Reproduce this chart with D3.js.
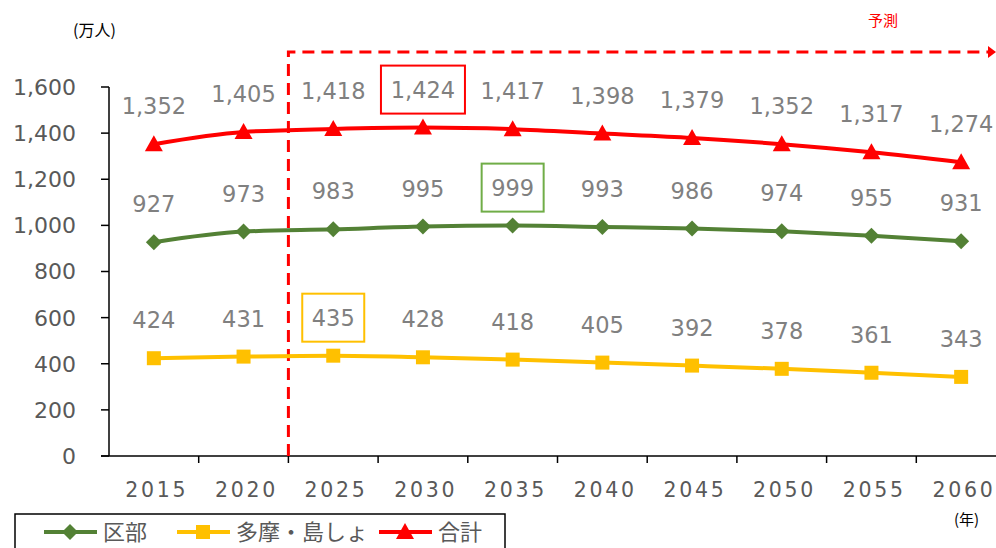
<!DOCTYPE html>
<html><head><meta charset="utf-8">
<script src="https://cdn.jsdelivr.net/npm/d3@7"></script>
<style>body{margin:0;background:#fff}svg{display:block}</style>
</head><body>
<svg id="c" width="996" height="548"></svg>
<script>
const years = ["2015","2020","2025","2030","2035","2040","2045","2050","2055","2060"];
const kubu = [927,973,983,995,999,993,986,974,955,931];
const tama = [424,431,435,428,418,405,392,378,361,343];
const total = [1352,1405,1418,1424,1417,1398,1379,1352,1317,1274];
const yTicks = [0,200,400,600,800,1000,1200,1400,1600];
const seriesNames = ["区部","多摩・島しょ","合計"];
const highlights = [{s:2,i:3},{s:0,i:4},{s:1,i:2}];

const svg = d3.select("#c");
const font = "'Noto Sans CJK JP', 'Noto Sans', sans-serif";
const numFont = "'DejaVu Sans', Verdana, sans-serif";
const x = d3.scaleBand().domain(years).range([109, 1006]).padding(0);
const y = d3.scaleLinear().domain([0,1600]).range([456, 87]);
const cx = d => x(d) + x.bandwidth()/2;

const series = [
  {name: seriesNames[0], vals: kubu, color: "#538135", marker: "diamond"},
  {name: seriesNames[1], vals: tama, color: "#FFC000", marker: "square"},
  {name: seriesNames[2], vals: total, color: "#FF0000", marker: "triangle"}
];

// axes
svg.append("line").attr("x1",109).attr("x2",109).attr("y1",y(1600)).attr("y2",y(0)).attr("stroke","#000").attr("stroke-width",1.5);
svg.append("line").attr("x1",101).attr("x2",996).attr("y1",y(0)).attr("y2",y(0)).attr("stroke","#000").attr("stroke-width",1.5);
yTicks.forEach(t=>{
  svg.append("line").attr("x1",101).attr("x2",109).attr("y1",y(t)).attr("y2",y(t)).attr("stroke","#000").attr("stroke-width",1.5);
  svg.append("text").attr("x",76).attr("y",y(t)).attr("dy","0.36em").attr("text-anchor","end")
    .attr("font-family",numFont).attr("font-size",22).attr("fill","#595959").text(d3.format(",")(t));
});
years.forEach((yr,i)=>{
  if(i>0) svg.append("line").attr("x1",x(yr)).attr("x2",x(yr)).attr("y1",y(0)).attr("y2",y(0)+7).attr("stroke","#000").attr("stroke-width",1.5);
  svg.append("text").attr("x",cx(yr)+1.5+1.35).attr("y",497).attr("text-anchor","middle")
    .attr("font-family",numFont).attr("font-size",20.5).attr("letter-spacing","2.7px").attr("fill","#595959").text(yr);
});

// unit labels
svg.append("text").attr("x",73).attr("y",36).attr("font-family",font).attr("font-size",16).attr("fill","#000").text("(万人)");
svg.append("text").attr("x",954).attr("y",525).attr("font-family",font).attr("font-size",15).attr("fill","#000").text("(年)");

// forecast dashed
const fx = x("2025");
svg.append("path").attr("d",`M${fx},${y(0)}V52H990`).attr("fill","none").attr("stroke","#FF0000").attr("stroke-width",3).attr("stroke-dasharray","12,7");
svg.append("path").attr("d","M988,46L996,52L988,58Z").attr("fill","#FF0000");
svg.append("text").attr("x",883).attr("y",26).attr("text-anchor","middle").attr("font-family",font).attr("font-size",15).attr("fill","#FF0000").text("予測");

// lines
const line = d3.line().x(d=>d[0]).y(d=>d[1]).curve(d3.curveMonotoneX);
function marker(g, type, px, py, color){
  if(type==="diamond") g.append("path").attr("d",`M${px},${py-8}L${px+8},${py}L${px},${py+8}L${px-8},${py}Z`).attr("fill",color);
  else if(type==="square") g.append("rect").attr("x",px-7).attr("y",py-7).attr("width",14).attr("height",14).attr("fill",color);
  else g.append("path").attr("d",`M${px},${py-9}L${px+9},${py+7}L${px-9},${py+7}Z`).attr("fill",color);
}
series.forEach(s=>{
  const pts = years.map((yr,i)=>[cx(yr), y(s.vals[i])]);
  svg.append("path").attr("d",line(pts)).attr("fill","none").attr("stroke",s.color).attr("stroke-width",4);
  const g = svg.append("g");
  pts.forEach(p=>marker(g,s.marker,p[0],p[1],s.color));
  years.forEach((yr,i)=>{
    svg.append("text").attr("x",cx(yr)).attr("y",y(s.vals[i])-38).attr("dy","0.36em").attr("text-anchor","middle")
      .attr("font-family",numFont).attr("font-size",22.5).attr("fill","#808080").text(d3.format(",")(s.vals[i]));
  });
});
// highlight boxes
highlights.forEach(h=>{
  const s = series[h.s], yr = years[h.i];
  const w = s.vals[h.i] >= 1000 ? 84 : 62;
  svg.append("rect").attr("x",cx(yr)-w/2).attr("y",y(s.vals[h.i])-38-24).attr("width",w).attr("height",48)
    .attr("fill","none").attr("stroke",s.color==="#538135"?"#70AD47":s.color).attr("stroke-width",2);
});

// legend
svg.append("rect").attr("x",15).attr("y",514).attr("width",490).attr("height",40).attr("fill","#fff").attr("stroke","#000").attr("stroke-width",1.5);
const lx = [44,177,379];
series.forEach((s,i)=>{
  svg.append("line").attr("x1",lx[i]).attr("x2",lx[i]+53).attr("y1",532).attr("y2",532).attr("stroke",s.color).attr("stroke-width",4);
  marker(svg,s.marker,lx[i]+26,532,s.color);
  svg.append("text").attr("x",lx[i]+59).attr("y",532).attr("dy","0.36em").attr("font-family",font).attr("font-size",22).attr("fill","#595959").text(s.name);
});
</script>
</body></html>
